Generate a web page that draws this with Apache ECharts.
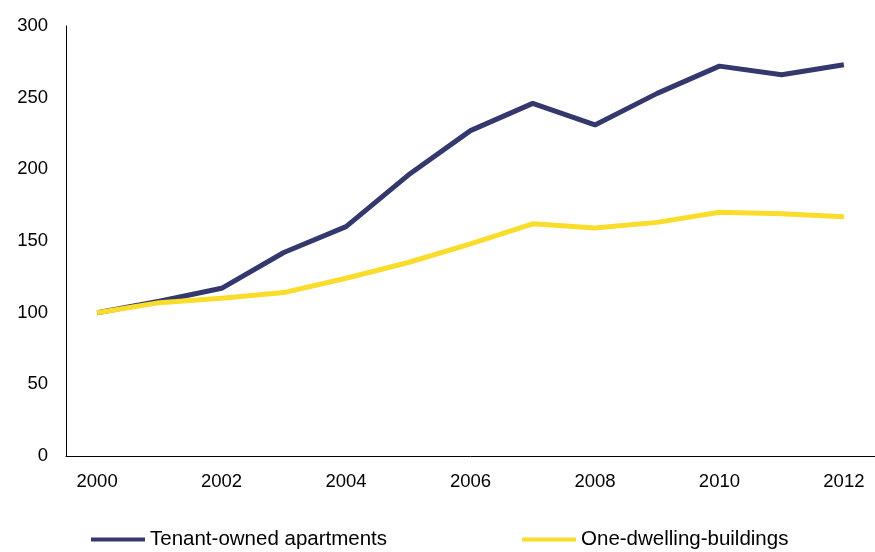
<!DOCTYPE html>
<html><head><meta charset="utf-8">
<script src="https://cdn.jsdelivr.net/npm/echarts@6/dist/echarts.min.js"></script>
<style>html,body{margin:0;padding:0;background:#fff}#c{width:875px;height:552px}</style>
</head><body><div id="c"></div>
<script>
const years = ['2000','2001','2002','2003','2004','2005','2006','2007','2008','2009','2010','2011','2012'];
const tenantOwned = [100,108,117,142,160,196,227,246,231,253,272,266,273];
const oneDwelling = [100,107,110,114,124,135,148,162,159,163,170,169,167];
const yTicks = [0,50,100,150,200,250,300];
const ch = echarts.init(document.getElementById('c'));
const font = {fontFamily:'Liberation Sans, Arial, sans-serif', fontSize:18.5, color:'#000'};
ch.setOption({
  animation:false,
  grid:{left:66,top:26,right:0,bottom:96},
  legend:{left:86,bottom:-3,itemWidth:54,itemHeight:4,itemGap:135,icon:'rect',
    textStyle:Object.assign({},font,{fontSize:20.5}),
    data:['Tenant-owned apartments','One-dwelling-buildings']},
  xAxis:{type:'category',data:years,boundaryGap:true,
    axisLine:{lineStyle:{color:'#000'}},axisTick:{show:false},
    axisLabel:Object.assign({interval:1,margin:16},font)},
  yAxis:{type:'value',min:yTicks[0],max:yTicks[yTicks.length-1],interval:50,
    axisLine:{show:true,lineStyle:{color:'#000'}},splitLine:{show:false},
    axisLabel:Object.assign({margin:18},font)},
  series:[
    {name:'Tenant-owned apartments',type:'line',data:tenantOwned,showSymbol:false,
      lineStyle:{width:5,color:'#34386d'},itemStyle:{color:'#34386d'}},
    {name:'One-dwelling-buildings',type:'line',data:oneDwelling,showSymbol:false,
      lineStyle:{width:5,color:'#fadc2b'},itemStyle:{color:'#fadc2b'}}
  ]
});
</script></body></html>
